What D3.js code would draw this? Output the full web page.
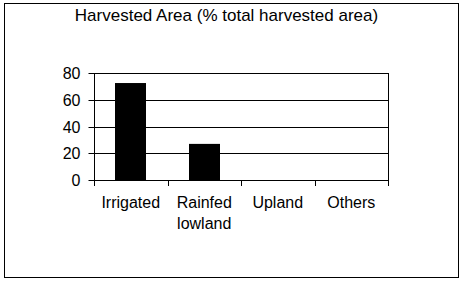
<!DOCTYPE html>
<html><head><meta charset="utf-8">
<script src="https://cdn.jsdelivr.net/npm/d3@7"></script>
<style>
html,body{margin:0;padding:0;background:#fff;}
svg{display:block;}
text{font-family:Arial,"Liberation Sans",sans-serif;fill:#000;}
</style></head><body>
<script>
const categories = ["Irrigated", "Rainfed lowland", "Upland", "Others"];
const categoryLines = [["Irrigated"], ["Rainfed", "lowland"], ["Upland"], ["Others"]];
const values = [72.5, 27, 0, 0];
const yTicks = [0, 20, 40, 60, 80];
const title = "Harvested Area (% total harvested area)";

(function () {
const W = 462, H = 281;
const svg = d3.select("body").append("svg").attr("width", W).attr("height", H);

svg.append("rect").attr("x", 4.5).attr("y", 3.5).attr("width", 454).attr("height", 274)
  .attr("fill", "none").attr("stroke", "#000").attr("stroke-width", 1);

const pL = 94, pR = 388, pT = 73, pB = 180;
const x = d3.scaleBand().domain(categories).range([pL, pR]).padding(0);
const y = d3.scaleLinear().domain([0, 80]).range([pB, pT]);

// gridlines
svg.append("g").selectAll("line").data(yTicks).join("line")
  .attr("x1", pL).attr("x2", pR)
  .attr("y1", d => Math.round(y(d)) + 0.5).attr("y2", d => Math.round(y(d)) + 0.5)
  .attr("stroke", "#000").attr("stroke-width", 1);
svg.append("line").attr("x1", pR + 0.5).attr("x2", pR + 0.5).attr("y1", pT).attr("y2", pB + 1)
  .attr("stroke", "#000");

// bars
const barW = 31;
svg.append("g").selectAll("rect").data(categories).join("rect")
  .attr("x", d => Math.round(x(d) + x.bandwidth() / 2 - barW / 2))
  .attr("y", (d, i) => y(values[i]))
  .attr("width", barW)
  .attr("height", (d, i) => pB - y(values[i]))
  .attr("fill", "#000");

// y axis
const yAxis = d3.axisLeft(y).tickValues(yTicks).tickSize(6).tickPadding(8).tickFormat(d3.format("d"));
const gy = svg.append("g").attr("transform", `translate(${pL + 0.5},0)`).call(yAxis);
gy.selectAll("text").style("font-size", "16px").attr("font-family", "Arial, 'Liberation Sans', sans-serif");
gy.selectAll(".tick").attr("transform", d => `translate(0,${Math.round(y(d)) + 0.5})`);
gy.selectAll("line,path").attr("stroke", "#000");
gy.select(".domain").attr("d", `M0,${pT}V${pB + 1}`);

// x axis ticks at band boundaries
const bounds = categories.map(c => x(c)).concat([x(categories[3]) + x.bandwidth()]);
svg.append("g").selectAll("line").data(bounds).join("line")
  .attr("x1", d => Math.round(d) + 0.5).attr("x2", d => Math.round(d) + 0.5)
  .attr("y1", pB).attr("y2", pB + 6).attr("stroke", "#000");

// x labels
const lbl = svg.append("g").selectAll("text").data(categories).join("text")
  .attr("x", d => x(d) + x.bandwidth() / 2)
  .attr("y", 208)
  .attr("text-anchor", "middle")
  .style("font-size", "16px");
lbl.each(function(d, i) {
  d3.select(this).selectAll("tspan").data(categoryLines[i]).join("tspan")
    .attr("x", x(d) + x.bandwidth() / 2)
    .attr("dy", (t, j) => j === 0 ? 0 : 21)
    .text(t => t);
});

svg.append("text").attr("x", 226.5).attr("y", 21).attr("text-anchor", "middle")
  .style("font-size", "17px").text(title);
})();
</script>
</body></html>
